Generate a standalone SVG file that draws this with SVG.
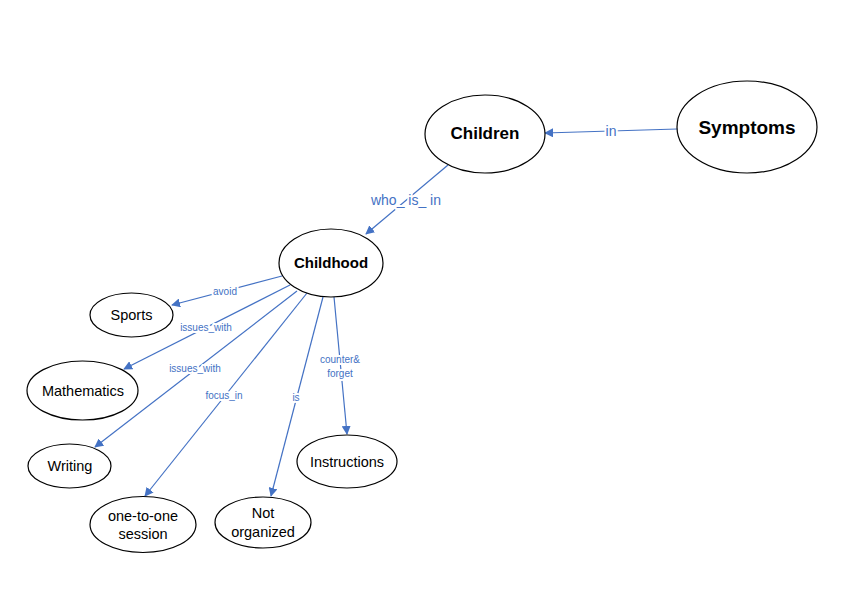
<svg xmlns="http://www.w3.org/2000/svg" width="868" height="600" viewBox="0 0 868 600">
<defs>
<marker id="arr" viewBox="0 0 10 10" refX="9" refY="5" markerWidth="9" markerHeight="9" markerUnits="userSpaceOnUse" orient="auto">
<path d="M0,0 L10,5 L0,10 Z" fill="#4472C4"/>
</marker>
<style>
.node ellipse{fill:#fff;stroke:#000;stroke-width:1.2}
.node text{font-family:"Liberation Sans",Arial,sans-serif;fill:#000;text-anchor:middle;dominant-baseline:central;font-size:14.5px}
.b text{font-weight:bold}
.edge{stroke:#4472C4;stroke-width:1.2;fill:none;marker-end:url(#arr)}
.lbl{font-family:"Liberation Sans",Arial,sans-serif;fill:#4472C4;font-size:10px;text-anchor:middle;dominant-baseline:central;stroke:#fff;stroke-width:4;paint-order:stroke;stroke-linejoin:round}
.big{font-size:14px}
</style>
</defs>
<rect width="868" height="600" fill="#fff"/>
<g id="connectors">
<line class="edge" x1="677" y1="129" x2="545" y2="133"/>
<line class="edge" x1="448" y1="165" x2="366" y2="234"/>
<line class="edge" x1="282" y1="276" x2="172" y2="305"/>
<line class="edge" x1="290" y1="285" x2="124" y2="369"/>
<line class="edge" x1="297" y1="291" x2="95" y2="447"/>
<line class="edge" x1="307" y1="293" x2="145" y2="496"/>
<line class="edge" x1="323" y1="297" x2="271" y2="496"/>
<line class="edge" x1="334" y1="297" x2="347" y2="434"/>
<text class="lbl big" x="611" y="131">in</text>
<text class="lbl big" x="406" y="200">who_ is_ in</text>
<text class="lbl" x="225" y="291">avoid</text>
<text class="lbl" x="206" y="327">issues_with</text>
<text class="lbl" x="195" y="368">issues_with</text>
<text class="lbl" x="224" y="395">focus_in</text>
<text class="lbl" x="296" y="397">is</text>
<text class="lbl" x="340" y="359">counter&amp;</text>
<text class="lbl" x="340" y="373">forget</text>
</g>
<g id="symptoms" class="node b"><ellipse cx="747" cy="127" rx="70" ry="46"/><text x="747" y="127" style="font-size:19px">Symptoms</text></g>
<g id="children" class="node b"><ellipse cx="485" cy="134" rx="60" ry="39"/><text x="485" y="133" style="font-size:17px">Children</text></g>
<g id="childhood" class="node b"><ellipse cx="331" cy="263" rx="52" ry="34"/><text x="331" y="262" style="font-size:15px">Childhood</text></g>
<g id="sports" class="node"><ellipse cx="131.5" cy="315" rx="41.5" ry="22"/><text x="131.5" y="315">Sports</text></g>
<g id="mathematics" class="node"><ellipse cx="82.5" cy="390.5" rx="55.5" ry="29.5"/><text x="83" y="391">Mathematics</text></g>
<g id="writing" class="node"><ellipse cx="69.5" cy="466" rx="41.5" ry="22"/><text x="70" y="466">Writing</text></g>
<g id="one-to-one" class="node"><ellipse cx="143" cy="524.5" rx="53" ry="28"/><text x="143" y="516">one-to-one</text><text x="143" y="534">session</text></g>
<g id="not-organized" class="node"><ellipse cx="263" cy="522.5" rx="48" ry="25.5"/><text x="263" y="513">Not</text><text x="263" y="532">organized</text></g>
<g id="instructions" class="node"><ellipse cx="347" cy="461.5" rx="50" ry="26.5"/><text x="347" y="462">Instructions</text></g>
</svg>
